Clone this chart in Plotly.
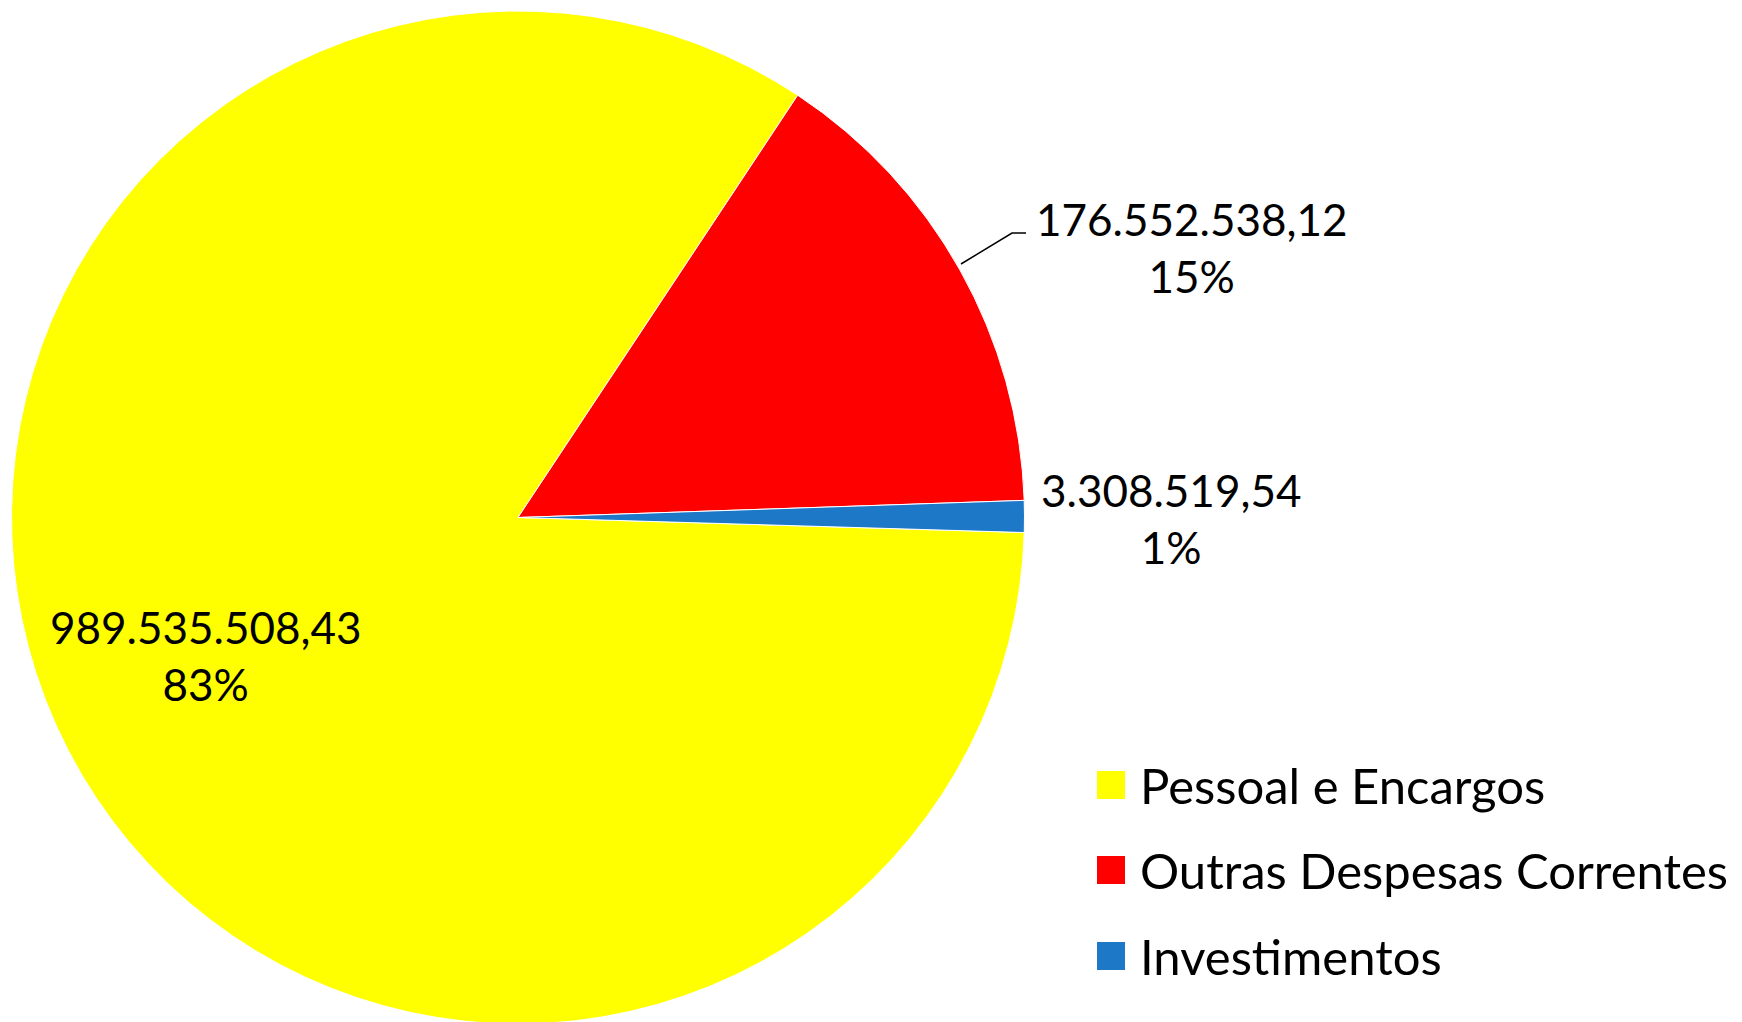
import plotly.graph_objects as go

categories = ["Pessoal e Encargos", "Outras Despesas Correntes", "Investimentos"]
amounts = ["989.535.508,43", "176.552.538,12", "3.308.519,54"]
percents = [83, 15, 1]
colors = ["#FFFF00", "#FF0000", "#1E78C8"]

W, H = 1742, 1022
OFF = 8  # page body margin compensation
FONT = "Lato, 'Open Sans', sans-serif"


def px(x):
    return (x - OFF) / W


def py(y):
    return 1 - (y - OFF) / H


fig = go.Figure(go.Pie(
    labels=categories,
    values=percents,
    sort=False,
    direction="clockwise",
    rotation=91.7,
    marker=dict(colors=colors, line=dict(color="#FFFFFF", width=1)),
    textinfo="none",
    hoverinfo="label+percent",
    domain=dict(x=[3 / W, 1017 / W], y=[6 / H, 1019 / H]),
    showlegend=False,
))

# data labels (value + percent)
label_pos = [(205, 655), (1191, 247), (1171, 518)]
for (x, y), amt, pct in zip(label_pos, amounts, percents):
    fig.add_annotation(
        x=px(x), y=py(y), xref="paper", yref="paper",
        text=f"{amt}<br>{pct}%", showarrow=False, align="center",
        font=dict(family=FONT, size=44, color="#000000"),
        xanchor="center", yanchor="middle",
    )

# leader line for the red slice label
fig.add_shape(type="path",
              path=f"M {px(961)},{py(264)} L {px(1012)},{py(233)} L {px(1026)},{py(233)}",
              xref="paper", yref="paper", line=dict(color="#000000", width=1.5))

# custom legend
rows = [785, 870, 956]
for y, cat, col in zip(rows, categories, colors):
    fig.add_shape(type="rect", xref="paper", yref="paper",
                  x0=px(1097), x1=px(1125), y0=py(y + 14), y1=py(y - 14),
                  fillcolor=col, line=dict(color=col, width=0))
    fig.add_annotation(x=px(1138), y=py(y), xref="paper", yref="paper",
                       text=cat, showarrow=False, xanchor="left", yanchor="middle",
                       font=dict(family=FONT, size=49, color="#000000"))

fig.update_layout(
    width=W, height=H,
    margin=dict(l=0, r=0, t=0, b=0),
    paper_bgcolor="#FFFFFF", plot_bgcolor="#FFFFFF",
)

fig.write_html("out.html")
